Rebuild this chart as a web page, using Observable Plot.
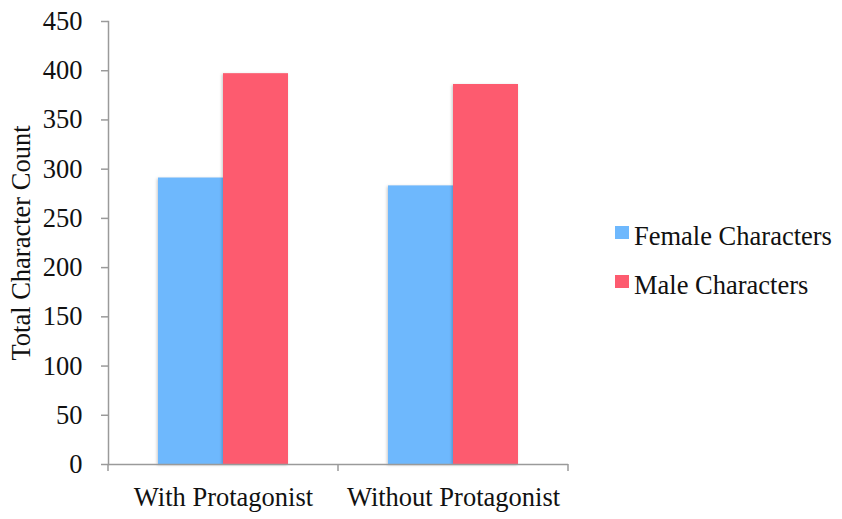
<!DOCTYPE html>
<html>
<head>
<meta charset="utf-8">
<script src="https://cdn.jsdelivr.net/npm/d3@7"></script>
<script src="https://cdn.jsdelivr.net/npm/@observablehq/plot@0.6"></script>
<style>
  html, body { margin: 0; padding: 0; background: #fff; }
  #wrap { position: relative; width: 842px; height: 519px; font-family: "Liberation Serif", "Times New Roman", serif; }
  #legend { position: absolute; left: 615px; top: 221px; font-size: 26.5px; color: #111; line-height: 30px; }
  .item { display: flex; align-items: center; height: 30px; margin-bottom: 19px; }
  .sw { width: 14px; height: 13px; margin-right: 5px; margin-top: -8px; }
  .bars rect { filter: drop-shadow(-1px 1.5px 1.5px rgba(0,0,0,0.22)); }
</style>
</head>
<body>
<div id="wrap"></div>
<script>
const groups = ["With Protagonist", "Without Protagonist"];
const series = ["Female Characters", "Male Characters"];
const female = [291, 283];
const male = [397, 386];
const colors = ["#6eb8fd", "#fd5b6f"];
const yTicks = [0, 50, 100, 150, 200, 250, 300, 350, 400, 450];

const data = [];
groups.forEach((g, i) => {
  data.push({group: g, series: series[0], value: female[i]});
  data.push({group: g, series: series[1], value: male[i]});
});

const axisColor = "#9a9a9a";

const plot = Plot.plot({
  width: 842,
  height: 519,
  marginLeft: 107,
  marginRight: 274,
  marginTop: 21,
  marginBottom: 55,
  style: {fontFamily: "'Liberation Serif', 'Times New Roman', serif", fontSize: "26.5px", color: "#111", background: "#fff", overflow: "visible"},
  fx: {domain: groups, padding: 0, label: null},
  x: {domain: series, paddingInner: 0, paddingOuter: 0.75, axis: null},
  y: {domain: [0, 450], label: null},
  color: {domain: series, range: colors},
  marks: [
    Plot.barY(data, {fx: "group", x: "series", y: "value", fill: "series", inset: 0, className: "bars"}),
    Plot.axisFx({anchor: "bottom", tickSize: 0, tickPadding: 23, label: null, fontSize: 26.5}),
    Plot.axisY({ticks: yTicks, tickSize: 7, tickPadding: 19, stroke: axisColor, strokeWidth: 1.5, fontSize: 26.5,
      label: "Total Character Count", labelAnchor: "center", labelArrow: "none", labelOffset: 97}),
    Plot.frame({anchor: "left", stroke: axisColor, strokeWidth: 1.5, facetAnchor: "left"}),
    Plot.ruleY([0], {stroke: axisColor, strokeWidth: 1.5})
  ]
});

document.getElementById("wrap").appendChild(plot);

// boundary ticks on x axis at facet band edges
const fx = plot.scale("fx");
const svg = d3.select(plot);
const y0 = plot.scale("y").apply(0);
const edges = [];
groups.forEach(g => edges.push(fx.apply(g)));
edges.push(fx.apply(groups[groups.length - 1]) + fx.bandwidth);
svg.append("g").selectAll("line").data(edges).join("line")
  .attr("x1", d => d).attr("x2", d => d)
  .attr("y1", y0).attr("y2", y0 + 7)
  .attr("stroke", axisColor).attr("stroke-width", 1.5);

// legend
const legend = d3.select("#wrap").append("div").attr("id", "legend");
series.forEach((s, i) => {
  const it = legend.append("div").attr("class", "item");
  it.append("div").attr("class", "sw").style("background", colors[i]);
  it.append("span").text(s);
});
</script>
</body>
</html>
